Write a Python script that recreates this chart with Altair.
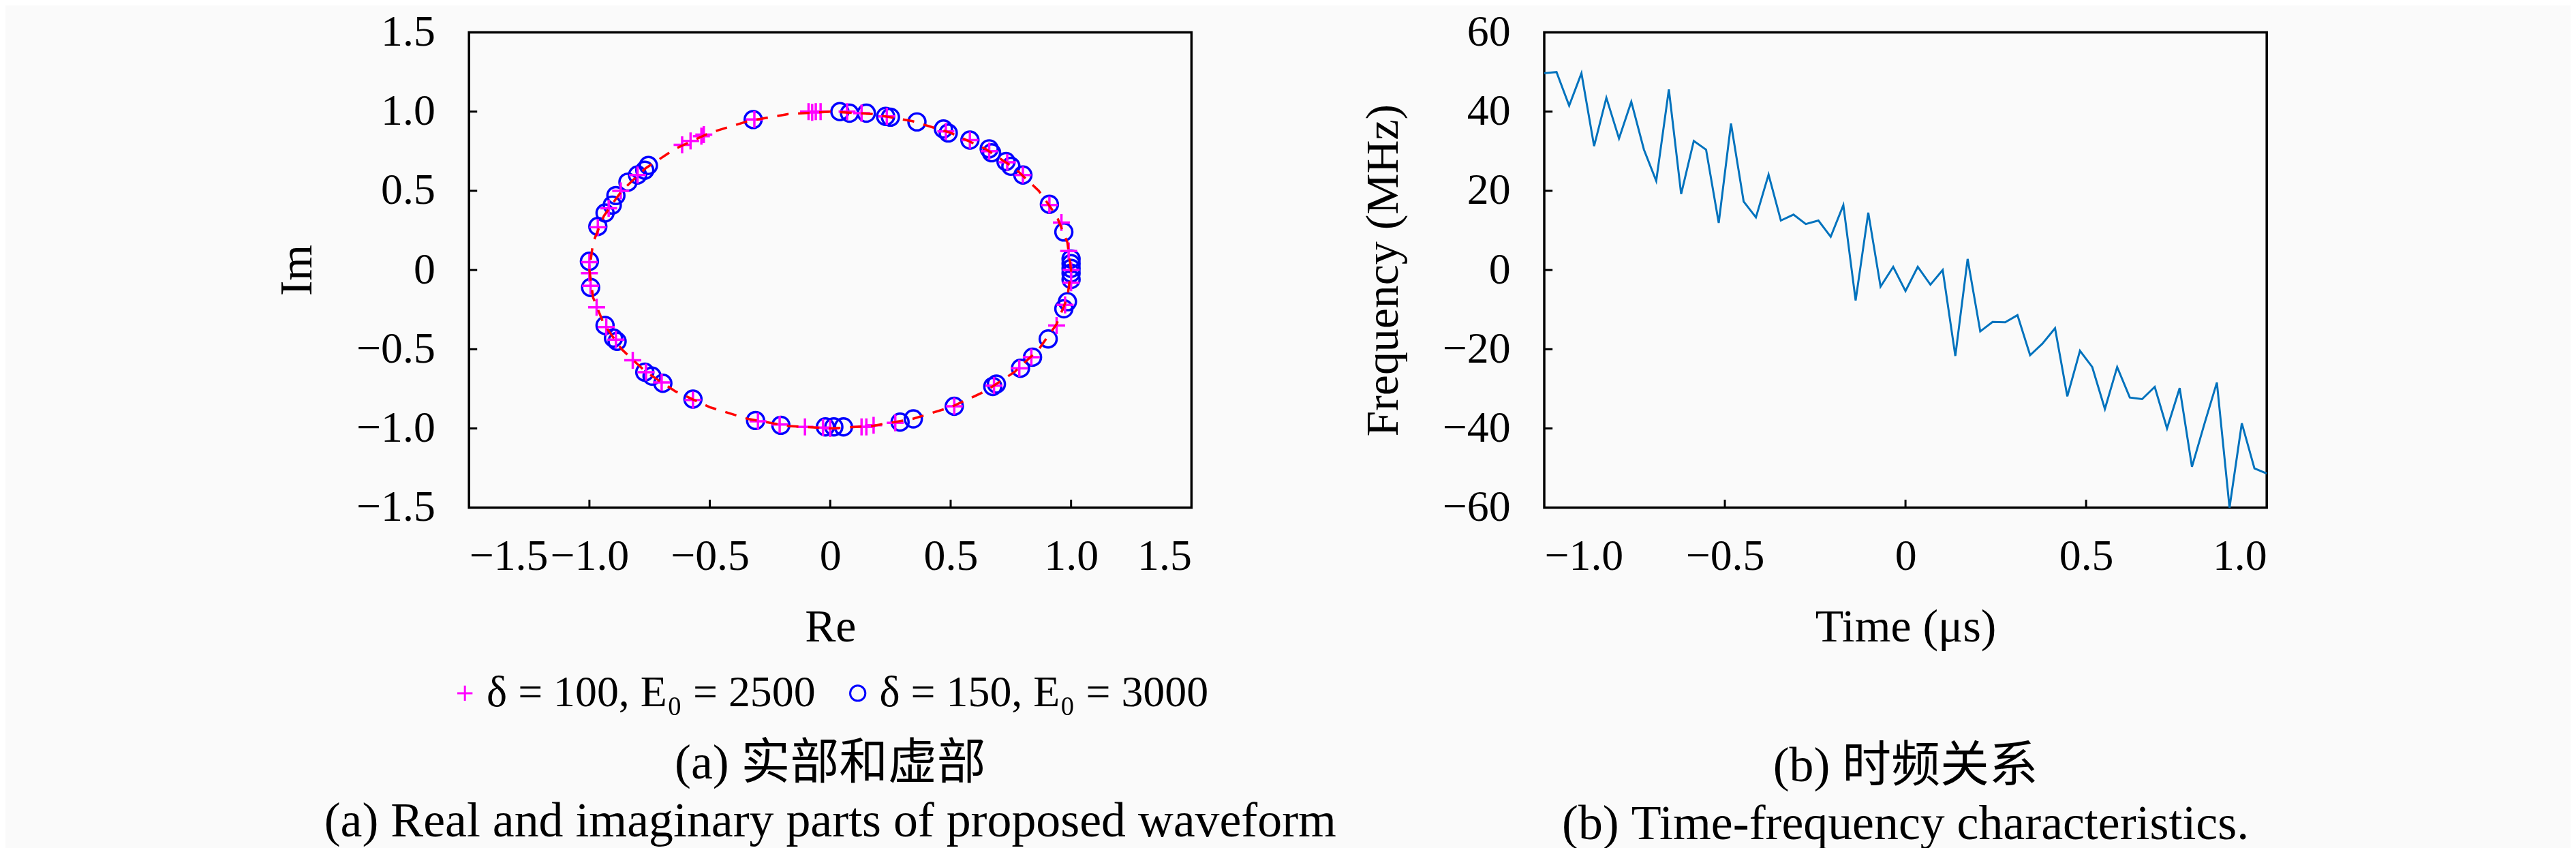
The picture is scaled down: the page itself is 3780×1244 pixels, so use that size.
"""Complex-plane view of two waveforms and the time-frequency curve."""

import altair as alt
import pandas as pd

# (a) samples of the two waveforms on the complex plane
plus_re = [0.07, 0.13, 0.235, 0.48, 0.58, 0.66, 0.735, 0.80, 0.91, 0.96,
           0.99, 1.0, 1.0, 0.975, 0.94, 0.835, 0.785, 0.68, 0.515, 0.27,
           0.18, 0.15, 0.13, 0.0, -0.03, -0.105, -0.21, -0.30, -0.57, -0.70,
           -0.765, -0.82, -0.89, -0.93, -0.97, -0.995, -1.0, -1.0, -0.965, -0.92,
           -0.87, -0.80, -0.615, -0.58, -0.535, -0.525, -0.315, -0.09, -0.075, -0.06,
           -0.04]
plus_im = [1.0, 0.99, 0.97, 0.875, 0.82, 0.75, 0.68, 0.60, 0.41, 0.30,
           0.12, 0.0, -0.08, -0.22, -0.35, -0.55, -0.62, -0.73, -0.86, -0.965,
           -0.98, -0.99, -0.99, -1.0, -0.995, -0.99, -0.975, -0.955, -0.82, -0.71,
           -0.645, -0.57, -0.44, -0.36, -0.235, -0.10, -0.02, 0.05, 0.27, 0.39,
           0.50, 0.60, 0.79, 0.815, 0.845, 0.855, 0.95, 1.0, 0.995, 1.0,
           1.0]
circ_re = [-0.32, 0.04, 0.08, 0.15, 0.23, 0.25, 0.36, 0.47, 0.49, 0.58,
           0.66, 0.67, 0.73, 0.75, 0.80, 0.91, 0.97, 1.0, 1.0, 1.0,
           1.0, 1.0, 0.985, 0.97, 0.905, 0.84, 0.79, 0.69, 0.675, 0.515,
           0.345, 0.29, 0.055, 0.015, -0.02, -0.205, -0.31, -0.57, -0.695, -0.74,
           -0.77, -0.885, -0.90, -0.935, -0.995, -1.0, -0.965, -0.935, -0.905, -0.89,
           -0.84, -0.80, -0.77, -0.755]
circ_im = [0.95, 1.0, 0.99, 0.99, 0.97, 0.965, 0.935, 0.89, 0.865, 0.82,
           0.765, 0.74, 0.685, 0.655, 0.60, 0.415, 0.24, 0.07, 0.04, 0.01,
           -0.02, -0.06, -0.20, -0.245, -0.435, -0.55, -0.62, -0.72, -0.735, -0.86,
           -0.94, -0.96, -0.99, -0.99, -0.99, -0.98, -0.95, -0.815, -0.715, -0.67,
           -0.645, -0.45, -0.43, -0.35, -0.11, 0.055, 0.275, 0.36, 0.41, 0.47,
           0.555, 0.60, 0.63, 0.66]
# unit-circle reference, angles in degrees
circle_deg = [0, 10, 20, 30, 40, 50, 60, 70, 80, 90, 100, 110, 120, 130, 140,
              150, 160, 170, 180, 190, 200, 210, 220, 230, 240, 250, 260, 270,
              280, 290, 300, 310, 320, 330, 340, 350, 360]
series_names = ["δ = 100, E₀ = 2500", "δ = 150, E₀ = 3000"]
ri_ticks = [-1.5, -1.0, -0.5, 0, 0.5, 1.0, 1.5]

# (b) instantaneous frequency against time
time_us = [-1.0, -0.966, -0.931, -0.897, -0.862, -0.828, -0.793, -0.759, -0.724, -0.690,
           -0.655, -0.621, -0.586, -0.552, -0.517, -0.483, -0.448, -0.414, -0.379, -0.345,
           -0.310, -0.276, -0.241, -0.207, -0.172, -0.138, -0.103, -0.069, -0.034, 0.0,
           0.034, 0.069, 0.103, 0.138, 0.172, 0.207, 0.241, 0.276, 0.310, 0.345,
           0.379, 0.414, 0.448, 0.483, 0.517, 0.552, 0.586, 0.621, 0.655, 0.690,
           0.724, 0.759, 0.793, 0.828, 0.862, 0.897, 0.931, 0.966, 1.0]
freq_mhz = [49.7, 50.0, 41.5, 49.7, 31.3, 43.5, 33.2, 42.5, 30.4, 22.5,
            45.6, 19.2, 32.6, 30.4, 11.9, 37.0, 17.3, 13.3, 24.1, 12.5,
            14.0, 11.6, 12.5, 8.4, 16.4, -7.7, 14.5, -4.2, 0.8, -5.3,
            0.8, -3.7, 0.0, -21.7, 2.8, -15.5, -13.1, -13.2, -11.4, -21.5,
            -18.6, -14.7, -31.9, -20.4, -24.5, -35.1, -24.5, -32.2, -32.6, -29.5,
            -40.0, -29.8, -49.7, -38.7, -28.4, -60.0, -38.7, -50.1, -51.4]
t_ticks = [-1.0, -0.5, 0, 0.5, 1.0]
f_ticks = [-60, -40, -20, 0, 20, 40, 60]

SERIF = "Liberation Serif, Noto Sans CJK SC"
PLUS = "M-1,0H1M0,-1V1"
W, H = 1063, 699
TICK_FMT = "datum.value == 0 ? '0' : format(datum.value, '.1f')"

pts = pd.concat([
    pd.DataFrame({"re": circ_re, "im": circ_im, "series": series_names[1]}),
    pd.DataFrame({"re": plus_re, "im": plus_im, "series": series_names[0]}),
])

xs = alt.Scale(domain=[-1.5, 1.5], nice=False, zero=False)
ys = alt.Scale(domain=[-1.5, 1.5], nice=False, zero=False)

legend = alt.Legend(
    title=None, orient="none", direction="horizontal", legendX=-38, legendY=940,
    labelFont=SERIF, labelFontSize=64, labelLimit=1000, labelOffset=0,
    columnPadding=30, symbolSize=500, symbolStrokeWidth=3,
)

markers = alt.Chart(pts).mark_point(filled=False, strokeWidth=3.5, size=625, opacity=1).encode(
    x=alt.X("re:Q", scale=xs, title="Re",
            axis=alt.Axis(values=ri_ticks, labelExpr=TICK_FMT)),
    y=alt.Y("im:Q", scale=ys, title="Im",
            axis=alt.Axis(values=ri_ticks, labelExpr=TICK_FMT)),
    color=alt.Color("series:N", legend=legend,
                    scale=alt.Scale(domain=series_names, range=["#ff00ff", "#0000ff"])),
    shape=alt.Shape("series:N", legend=legend,
                    scale=alt.Scale(domain=series_names, range=[PLUS, "circle"])),
)

ring = (
    alt.Chart(pd.DataFrame({"deg": circle_deg}))
    .transform_calculate(re="cos(datum.deg * PI / 180)", im="sin(datum.deg * PI / 180)")
    .mark_line(color="#ff0000", strokeDash=[17, 14], strokeWidth=3.5)
    .encode(x="re:Q", y="im:Q", order="deg:Q")
)

# inward tick marks
inner = pd.DataFrame({"v": [-1.0, -0.5, 0, 0.5, 1.0]})
ri_xticks = alt.Chart(inner).mark_rule(color="black", strokeWidth=3).encode(
    x="v:Q", y=alt.datum(-1.5), y2=alt.datum(-1.45))
ri_yticks = alt.Chart(inner).mark_rule(color="black", strokeWidth=3).encode(
    y="v:Q", x=alt.datum(-1.5), x2=alt.datum(-1.466))

left = alt.layer(markers, ring, ri_xticks, ri_yticks).properties(
    width=W, height=H,
    title=alt.TitleParams(
        ["(a) 实部和虚部", "(a) Real and imaginary parts of proposed waveform"],
        orient="bottom", anchor="middle", frame="group", offset=131,
    ),
)

tf = pd.DataFrame({"t": time_us, "f": freq_mhz})
tf_line = alt.Chart(tf).mark_line(color="#0072bd", strokeWidth=3).encode(
    x=alt.X("t:Q", title="Time (μs)", scale=alt.Scale(domain=[-1, 1], nice=False),
            axis=alt.Axis(values=t_ticks, labelExpr=TICK_FMT)),
    y=alt.Y("f:Q", title="Frequency (MHz)", scale=alt.Scale(domain=[-60, 60], nice=False),
            axis=alt.Axis(values=f_ticks, format="d")),
)
tf_xticks = alt.Chart(pd.DataFrame({"v": [-0.5, 0, 0.5]})).mark_rule(
    color="black", strokeWidth=3).encode(x="v:Q", y=alt.datum(-60), y2=alt.datum(-58))
tf_yticks = alt.Chart(pd.DataFrame({"v": [-40, -20, 0, 20, 40]})).mark_rule(
    color="black", strokeWidth=3).encode(y="v:Q", x=alt.datum(-1), x2=alt.datum(-0.977))

right = alt.layer(tf_line, tf_xticks, tf_yticks).properties(
    width=W, height=H,
    title=alt.TitleParams(
        ["(b) 时频关系", "(b) Time-frequency characteristics."],
        orient="bottom", anchor="middle", frame="group", offset=135,
    ),
)

chart = (
    alt.hconcat(left, right, spacing=519, bounds="flush")
    .properties(padding={"left": 394, "top": 4, "right": 439, "bottom": 0},
                background="#fafafa")
    .configure_view(stroke="black", strokeWidth=3.5)
    .configure_axis(
        labelFont=SERIF, labelFontSize=64, labelColor="black",
        titleFont=SERIF, titleFontSize=68, titleColor="black", titleFontWeight="normal",
        domain=False, ticks=False, tickSize=0, grid=False,
    )
    .configure_axisX(labelPadding=40, titlePadding=38)
    .configure_axisY(labelPadding=50, titlePadding=52)
    .configure_title(font=SERIF, fontSize=72, fontWeight="normal", color="black",
                     lineHeight=86)
)

chart.save("out.html", embed_options={"renderer": "svg", "actions": False})
